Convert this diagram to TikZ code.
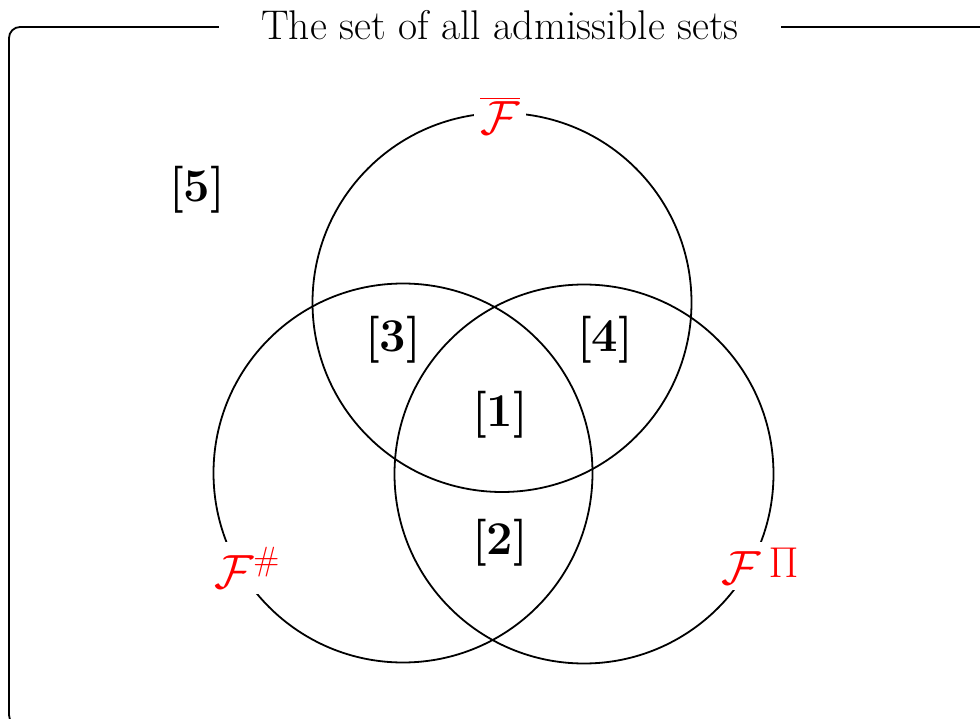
\RequirePackage{fix-cm}
\documentclass[tikz,border=0pt]{standalone}
\usepackage{amsmath}
\usepackage{graphicx}
\usepackage{fontspec}
\tikzset{
  vcircle/.style={circle, draw=black, line width=1.8pt, minimum size=379pt, inner sep=0pt},
  region/.style={font=\fontsize{47}{54}\selectfont\bfseries, inner sep=0pt},
  setlabel/.style={text=red, fill=white, font=\fontsize{48}{56}\selectfont, inner sep=6pt},
}
\begin{document}
\begin{tikzpicture}[x=1pt,y=-1pt]
\useasboundingbox (0,0) rectangle (980,719);
\draw[line width=1.8pt, rounded corners=11pt] (9,27) rectangle (1020,726);
\node[fill=white, inner xsep=42pt, inner ysep=4pt, font=\fontsize{41.5}{48}\selectfont] (title) at (500,25) {The set of all admissible sets};
\node[vcircle] (T) at (502,302.5) {};
\node[vcircle] (L) at (403,473) {};
\node[vcircle] (R) at (584,474) {};
\node[setlabel] (Fbar) at (500,116) {$\overline{\mathcal{F}}$};
\node[setlabel] (Fsharp) at (247,568) {$\mathcal{F}^{\#}$};
\node[setlabel] (Fprod) at (760,566) {$\mathcal{F}\,\raisebox{7pt}{\scalebox{0.9}{$\Pi$}}$};
\node[region] (r5) at (197,190) {[5]};
\node[region] (r3) at (393,340) {[3]};
\node[region] (r4) at (605,340) {[4]};
\node[region] (r1) at (500,415) {[1]};
\node[region] (r2) at (500,543) {[2]};
\end{tikzpicture}
\end{document}
